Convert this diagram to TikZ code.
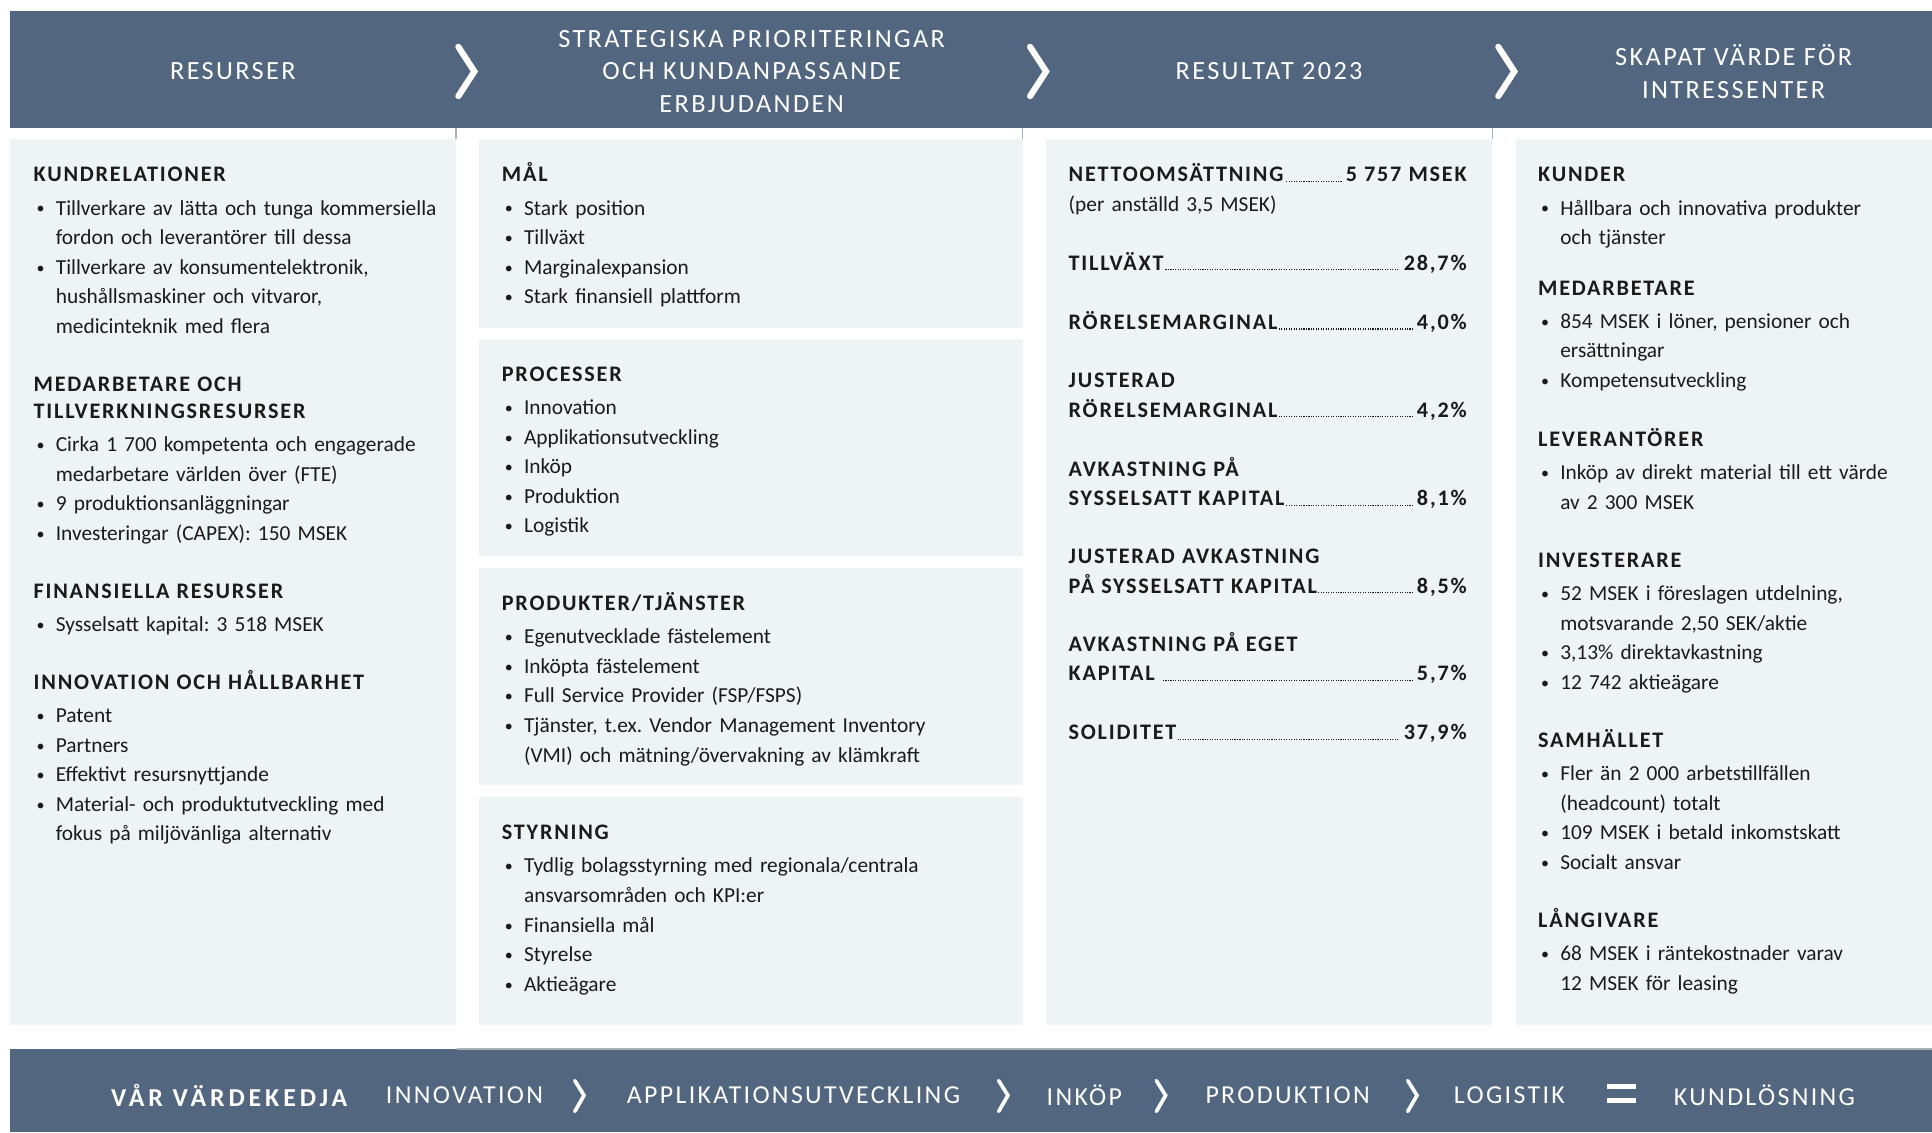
\documentclass[tikz,border=0pt]{standalone}
\usepackage{fontspec}
\setmainfont{Carlito}
\newfontfamily\hdfont{Carlito}[LetterSpace=8]
\newfontfamily\bnfont{Carlito}[LetterSpace=9]
\newfontfamily\vkfont{Carlito}[LetterSpace=15]
\usetikzlibrary{positioning}
\frenchspacing

\definecolor{banner}{HTML}{52667F}
\definecolor{panel}{HTML}{EEF3F6}
\definecolor{ink}{HTML}{1A1A1A}
\definecolor{sepgrey}{HTML}{A9B0B8}

\newcommand\hd[1]{{\hdfont\bfseries\fontsize{10.8}{14.4}\selectfont #1\par}\vspace{1.8pt}}
\newcommand\hdd[2]{{\hdfont\bfseries\fontsize{10.8}{13.2}\selectfont #1\newline #2\par}\vspace{1.8pt}}
\newcommand\hb[1]{{\hdfont\bfseries\fontsize{10.8}{14.4}\selectfont #1}}
\newcommand\itm[1]{\par\hangindent=10.8pt\hangafter=1\noindent
    \makebox[10.8pt][l]{\hspace{1.4pt}\raisebox{0.5pt}{\scalebox{0.75}{\textbullet}}}#1\par}
\newcommand\lead{\leaders\hbox to 1.2pt{\hss{\color{ink}\rule{0.55pt}{0.55pt}}\hss}\hfill}
\newcommand\res[2]{\noindent\hbox to \linewidth{\hb{#1}\lead\hspace{1.5pt}\hb{#2}}\par}

\tikzset{
    bar/.style={fill=banner},
    card/.style={fill=panel},
    sep/.style={draw=sepgrey, line width=0.6pt},
    head/.style={text=white, font=\bnfont\fontsize{12.8}{16}\selectfont, align=center, inner sep=0pt},
    chain/.style={text=white, font=\bnfont\fontsize{12.6}{15}\selectfont, inner sep=0pt},
    blk/.style={anchor=base west, inner sep=0pt, align=left, text width=#1, text=ink, yshift=-0.9pt,
                font=\fontsize{10.4}{14.4}\selectfont},
    chev/.style={draw=white, line width=3pt, line cap=round},
    chevs/.style={draw=white, line width=1.8pt, line cap=round},
}

\begin{document}
\begin{tikzpicture}[x=0.6pt,y=-0.6pt]
                \useasboundingbox (0,0) rectangle (1568,919);
                \fill[white] (0,0) rectangle (1568,919);

                \fill[bar] (8,9) rectangle (1568,104);
                \fill[bar] (8,851) rectangle (1568,919);
                \draw[sep] (371,851.3) -- (1568,851.3);
                \foreach \x in {370,830,1211} \draw[sep] (\x,104) -- (\x,113);

                \fill[card] (8,113) rectangle (370,832);
                \fill[card] (389,113) rectangle (830,266);
                \fill[card] (389,275) rectangle (830,451);
                \fill[card] (389,461) rectangle (830,637);
                \fill[card] (389,647) rectangle (830,832);
                \fill[card] (849,113) rectangle (1211,832);
                \fill[card] (1230,113) rectangle (1568,832);

                \node[head] (resurser) at (189,58) {RESURSER};
                \node[head] (strategi) at (610,58) {STRATEGISKA PRIORITERINGAR\\OCH KUNDANPASSANDE\\ERBJUDANDEN};
                \node[head] (resultat) at (1030,58) {RESULTAT 2023};
                \node[head] (varde) at (1407,58) {SKAPAT VÄRDE FÖR\\INTRESSENTER};
                \foreach \cx in {378,842,1222} \draw[chev] (\cx-6,38) -- (\cx+7,58) -- (\cx-6,78);

                \node[blk=250pt] (kundrel) at (27,146) {\hd{KUNDRELATIONER}
                    \itm{Tillverkare av lätta och tunga kommersiella\newline fordon och leverantörer till dessa}
                    \itm{Tillverkare av konsumentelektronik,\newline hushållsmaskiner och vitvaror,\newline medicinteknik med flera}};
                \node[blk=250pt] (medarb) at (27,316) {\hdd{MEDARBETARE OCH}{TILLVERKNINGSRESURSER}
                    \itm{Cirka 1 700 kompetenta och engagerade\newline medarbetare världen över (FTE)}
                    \itm{9 produktionsanläggningar}
                    \itm{Investeringar (CAPEX): 150 MSEK}};
                \node[blk=250pt] (finans) at (27,484) {\hd{FINANSIELLA RESURSER}
                    \itm{Sysselsatt kapital: 3 518 MSEK}};
                \node[blk=250pt] (innohall) at (27,558) {\hd{INNOVATION OCH HÅLLBARHET}
                    \itm{Patent}
                    \itm{Partners}
                    \itm{Effektivt resursnyttjande}
                    \itm{Material- och produktutveckling med\newline fokus på miljövänliga alternativ}};

                \node[blk=250pt] (mal) at (407,146) {\hd{MÅL}
                    \itm{Stark position}
                    \itm{Tillväxt}
                    \itm{Marginalexpansion}
                    \itm{Stark finansiell plattform}};
                \node[blk=250pt] (processer) at (407,308) {\hd{PROCESSER}
                    \itm{Innovation}
                    \itm{Applikationsutveckling}
                    \itm{Inköp}
                    \itm{Produktion}
                    \itm{Logistik}};
                \node[blk=250pt] (produkter) at (407,494) {\hd{PRODUKTER/TJÄNSTER}
                    \itm{Egenutvecklade fästelement}
                    \itm{Inköpta fästelement}
                    \itm{Full Service Provider (FSP/FSPS)}
                    \itm{Tjänster, t.ex. Vendor Management Inventory\newline (VMI) och mätning/övervakning av klämkraft}};
                \node[blk=250pt] (styrning) at (407,680) {\hd{STYRNING}
                    \itm{Tydlig bolagsstyrning med regionala/centrala\newline ansvarsområden och KPI:er}
                    \itm{Finansiella mål}
                    \itm{Styrelse}
                    \itm{Aktieägare}};

                \node[blk=193.8pt] (netto) at (867,146) {\res{NETTOOMSÄTTNING}{5 757 MSEK}(per anställd 3,5 MSEK)};
                \node[blk=193.8pt] (tillvaxt) at (867,218) {\res{TILLVÄXT}{28,7\%}};
                \node[blk=193.8pt] (rorelse) at (867,266) {\res{RÖRELSEMARGINAL}{4,0\%}};
                \node[blk=193.8pt] (justror) at (867,313) {\hb{JUSTERAD}\par\res{RÖRELSEMARGINAL}{4,2\%}};
                \node[blk=193.8pt] (avksys) at (867,385) {\hb{AVKASTNING PÅ}\par\res{SYSSELSATT KAPITAL}{8,1\%}};
                \node[blk=193.8pt] (justavk) at (867,456) {\hb{JUSTERAD AVKASTNING}\par\res{PÅ SYSSELSATT KAPITAL}{8,5\%}};
                \node[blk=193.8pt] (avkeget) at (867,527) {\hb{AVKASTNING PÅ EGET}\par\res{KAPITAL\hspace{3pt}}{5,7\%}};
                \node[blk=193.8pt] (soliditet) at (867,599) {\res{SOLIDITET}{37,9\%}};

                \node[blk=250pt] (kunder) at (1248,146) {\hd{KUNDER}
                    \itm{Hållbara och innovativa produkter\newline och tjänster}};
                \node[blk=250pt] (medarbetare) at (1248,238) {\hd{MEDARBETARE}
                    \itm{854 MSEK i löner, pensioner och\newline ersättningar}
                    \itm{Kompetensutveckling}};
                \node[blk=250pt] (leverantorer) at (1248,361) {\hd{LEVERANTÖRER}
                    \itm{Inköp av direkt material till ett värde\newline av 2 300 MSEK}};
                \node[blk=250pt] (investerare) at (1248,459) {\hd{INVESTERARE}
                    \itm{52 MSEK i föreslagen utdelning,\newline motsvarande 2,50 SEK/aktie}
                    \itm{3,13\% direktavkastning}
                    \itm{12 742 aktieägare}};
                \node[blk=250pt] (samhallet) at (1248,605) {\hd{SAMHÄLLET}
                    \itm{Fler än 2 000 arbetstillfällen\newline (headcount) totalt}
                    \itm{109 MSEK i betald inkomstskatt}
                    \itm{Socialt ansvar}};
                \node[blk=250pt] (langivare) at (1248,751) {\hd{LÅNGIVARE}
                    \itm{68 MSEK i räntekostnader varav\newline 12 MSEK för leasing}};

                \node[chain, font=\vkfont\bfseries\fontsize{12.6}{15}\selectfont] (vardekedja) at (186,889) {VÅR VÄRDEKEDJA};
                \node[chain] (innovation) at (377,889) {INNOVATION};
                \node[chain] (applikation) at (644,889) {APPLIKATIONSUTVECKLING};
                \node[chain] (inkop) at (880,889) {INKÖP};
                \node[chain] (produktion) at (1045,889) {PRODUKTION};
                \node[chain] (logistik) at (1225,889) {LOGISTIK};
                \node[chain] (kundlosning) at (1432,889) {KUNDLÖSNING};
                \foreach \cx in {470,814,942,1146} \draw[chevs] (\cx-3.5,877) -- (\cx+4,889) -- (\cx-3.5,902);
                \fill[white] (1304,880) rectangle (1328,884);
                \fill[white] (1304,891) rectangle (1328,895);
\end{tikzpicture}
\end{document}
